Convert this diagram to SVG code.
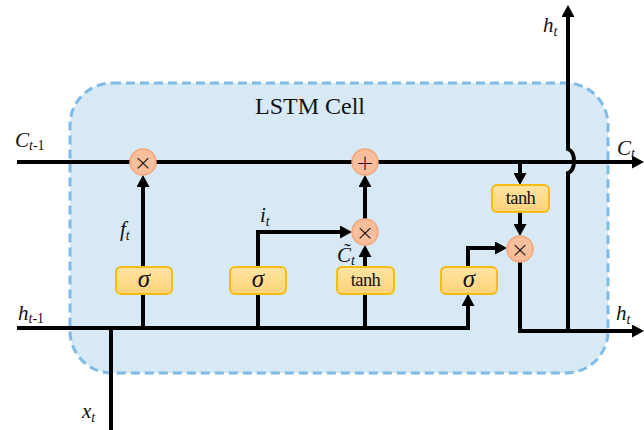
<svg xmlns="http://www.w3.org/2000/svg" width="644" height="430" viewBox="0 0 644 430">
<style>
.ln{fill:none;stroke:#000;stroke-width:4}
.ar{marker-end:url(#ah)}
.op circle{fill:#F9BF9C;stroke:#F5A57A;stroke-width:1.5}
.op text{font-family:"DejaVu Sans","Liberation Sans",sans-serif;font-weight:200;font-size:22px;text-anchor:middle;fill:#111}
.gate rect{fill:url(#gg);stroke:#F6BC14;stroke-width:2}
.serif{font-family:"Liberation Serif","Times New Roman","DejaVu Serif",serif}
.sig{font-family:"Liberation Serif","Times New Roman","DejaVu Serif",serif;font-style:italic;font-size:25px;text-anchor:middle;fill:#111}
.th{font-family:"Liberation Serif","Times New Roman","DejaVu Serif",serif;font-size:18.5px;text-anchor:middle;fill:#111;letter-spacing:-0.6px}
.lbl{font-family:"Liberation Serif","Times New Roman","DejaVu Serif",serif;font-style:italic;font-size:21px;fill:#111}
.sub{font-size:14px}
.up{font-style:normal}
</style>
<defs>
<marker id="ah" markerUnits="userSpaceOnUse" markerWidth="13" markerHeight="13" refX="4" refY="6.5" orient="auto">
<path d="M0,0 L12,6.5 L0,13 z" fill="#000"/>
</marker>
<linearGradient id="gg" x1="0" y1="0" x2="0" y2="1">
<stop offset="0" stop-color="#FFE4A3"/>
<stop offset="1" stop-color="#FFD27A"/>
</linearGradient>
</defs>

<g id="cell">
<rect x="70" y="83" width="538" height="290" rx="42" ry="42" fill="#D7E9F5" stroke="#7FBBE5" stroke-width="3" stroke-dasharray="9,5"/>
<text class="serif" x="310" y="114" font-size="24" text-anchor="middle" fill="#111">LSTM Cell</text>
</g>

<g id="connectors">
<path class="ln ar" d="M17,162 H636"/>
<path class="ln ar" d="M17,328 H468 V302"/>
<path class="ln" d="M111,430 V328"/>
<path class="ln" d="M143,328 V294"/>
<path class="ln" d="M258,328 V294"/>
<path class="ln" d="M365,328 V294"/>
<path class="ln ar" d="M143,267 V183"/>
<path class="ln ar" d="M258,267 V232 H344"/>
<path class="ln ar" d="M365,267 V253"/>
<path class="ln ar" d="M365,219 V183"/>
<path class="ln ar" d="M520,162 V177"/>
<path class="ln ar" d="M520,212 V228"/>
<path class="ln ar" d="M468,267 V248 H499"/>
<path class="ln ar" d="M520,262 V331 H636"/>
<path class="ln ar" d="M568,331 V173 C576,170 576,152 568,149 V13"/>
</g>

<g id="mul-forget" class="op"><circle cx="143" cy="162" r="13"/><text x="143" y="170">×</text></g>
<g id="add-cell" class="op"><circle cx="365" cy="162" r="13"/><text x="365" y="170">+</text></g>
<g id="mul-input" class="op"><circle cx="365" cy="232" r="13"/><text x="365" y="240">×</text></g>
<g id="mul-output" class="op"><circle cx="520" cy="249" r="13"/><text x="520" y="257">×</text></g>

<g id="gate-forget" class="gate"><rect x="116" y="267" width="56" height="27" rx="5"/><text class="sig" x="144" y="287">σ</text></g>
<g id="gate-input" class="gate"><rect x="230" y="267" width="56" height="27" rx="5"/><text class="sig" x="258" y="287">σ</text></g>
<g id="gate-cand" class="gate"><rect x="337" y="267" width="57" height="27" rx="5"/><text class="th" x="365.5" y="286">tanh</text></g>
<g id="gate-output" class="gate"><rect x="441" y="267" width="56" height="27" rx="5"/><text class="sig" x="469" y="287">σ</text></g>
<g id="tanh-cell" class="gate"><rect x="492" y="185" width="57" height="27" rx="5"/><text class="th" x="520.5" y="204">tanh</text></g>

<g id="labels">
<text class="lbl" x="15" y="147">C<tspan class="sub" dy="3">t</tspan><tspan class="sub up">-1</tspan></text>
<text class="lbl" x="617" y="155">C<tspan class="sub" dy="3">t</tspan></text>
<text class="lbl" x="543" y="32">h<tspan class="sub" dy="4">t</tspan></text>
<text class="lbl" x="120" y="236">f<tspan class="sub" dy="4">t</tspan></text>
<text class="lbl" x="260" y="222">i<tspan class="sub" dy="4">t</tspan></text>
<text class="lbl" x="337" y="262" font-size="17">C&#771;<tspan class="sub" font-size="12" dy="3">t</tspan></text>
<text class="lbl" x="18" y="320">h<tspan class="sub" dy="3">t</tspan><tspan class="sub up">-1</tspan></text>
<text class="lbl" x="616" y="320">h<tspan class="sub" dy="4">t</tspan></text>
<text class="lbl" x="82" y="418">x<tspan class="sub" dy="4">t</tspan></text>
</g>
</svg>
